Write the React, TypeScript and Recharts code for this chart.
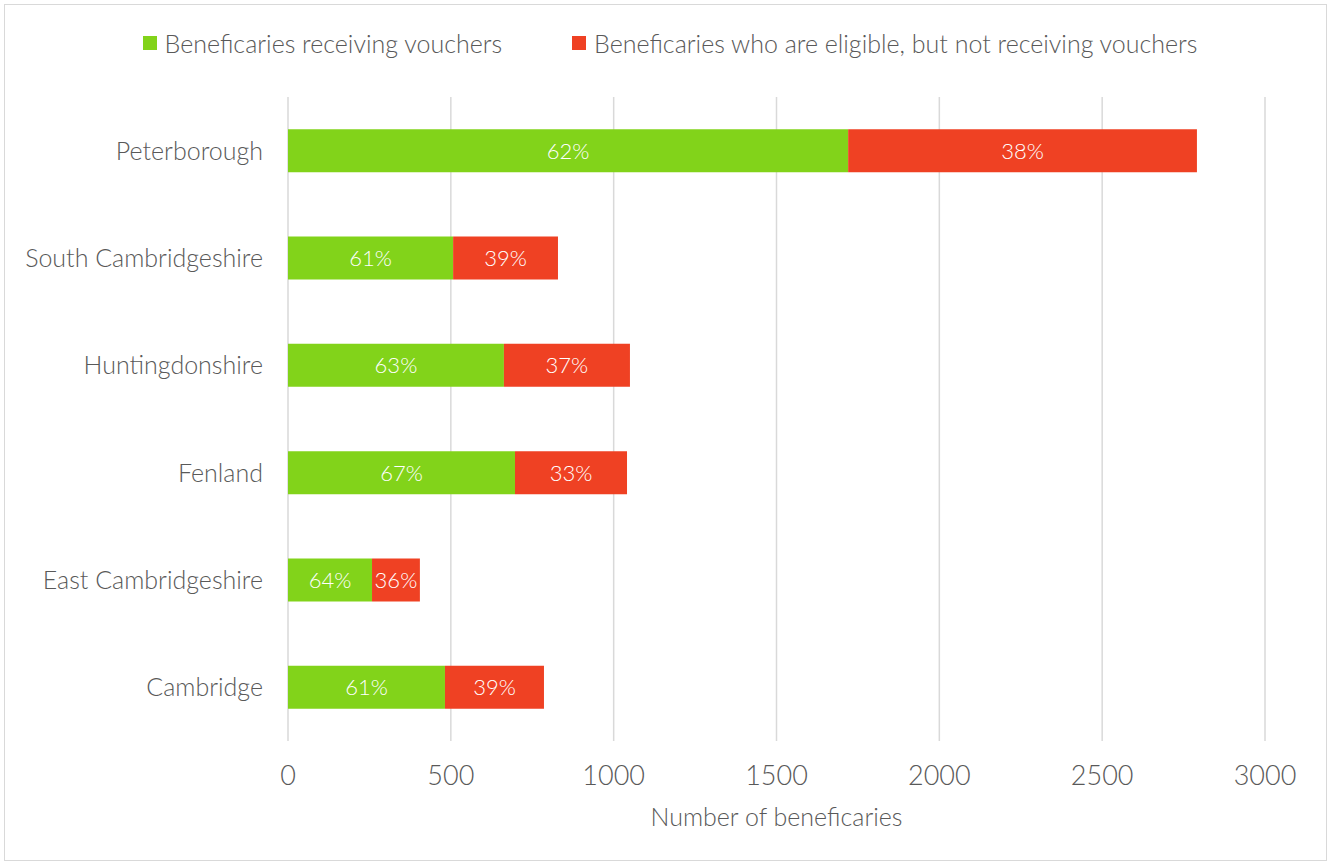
import React from 'react';
import { BarChart, Bar, XAxis, YAxis, CartesianGrid, Legend, LabelList } from 'recharts';

const categories = ['Peterborough', 'South Cambridgeshire', 'Huntingdonshire', 'Fenland', 'East Cambridgeshire', 'Cambridge'];
const receiving = [1720, 507, 663, 697, 258, 482];
const notReceiving = [1071, 322, 387, 344, 147, 304];
const receivingPct = ['62%', '61%', '63%', '67%', '64%', '61%'];
const notReceivingPct = ['38%', '39%', '37%', '33%', '36%', '39%'];
const xTicks = [0, 500, 1000, 1500, 2000, 2500, 3000];

const SERIES_A = 'Beneficaries receiving vouchers';
const SERIES_B = 'Beneficaries who are eligible, but not receiving vouchers';
const GREEN = '#82D31A';
const RED = '#EF4123';
const TEXT = '#595959';
const FONT = 'Lato, "Open Sans", sans-serif';

const data = categories.map((name, i) => ({
  name,
  a: receiving[i],
  b: notReceiving[i],
  pa: receivingPct[i],
  pb: notReceivingPct[i],
}));

const LegendContent = () => (
  <div style={{ display: 'flex', justifyContent: 'center', fontFamily: FONT, fontWeight: 300, fontSize: 25, color: TEXT, paddingLeft: 10 }}>
    {[{ c: GREEN, t: SERIES_A }, { c: RED, t: SERIES_B }].map((it, i) => (
      <div key={i} style={{ display: 'flex', alignItems: 'center', marginRight: i === 0 ? 70 : 0 }}>
        <span style={{ display: 'inline-block', width: 14, height: 14, background: it.c, marginRight: 8 }} />
        <span>{it.t}</span>
      </div>
    ))}
  </div>
);

export default function App() {
  return (
    <div style={{ position: 'fixed', left: 0, top: 0, width: 1330, height: 863, background: '#fff' }}>
      <div style={{ position: 'absolute', left: 4, top: 4, width: 1321, height: 855, border: '1px solid #d9d9d9' }} />
      <div style={{ position: 'absolute', left: 0, top: 0 }}>
        <BarChart
          width={1330}
          height={863}
          data={data}
          layout="vertical"
          margin={{ top: 97, right: 65, bottom: 32, left: 0 }}
          barCategoryGap="30%"
        >
          <CartesianGrid horizontal={false} stroke="#d9d9d9" strokeWidth={1.5} />
          <XAxis
            type="number"
            domain={[0, 3000]}
            ticks={xTicks}
            axisLine={false}
            tickLine={false}
            tickSize={0}
            tickMargin={25}
            height={90}
            tick={{ fill: TEXT, fontSize: 27, fontFamily: FONT, fontWeight: 300 }}
            label={{ value: 'Number of beneficaries', position: 'insideBottom', offset: 5, fill: TEXT, fontSize: 25, fontFamily: FONT, fontWeight: 300 }}
          />
          <YAxis
            type="category"
            dataKey="name"
            width={288}
            axisLine={false}
            tickLine={false}
            tickSize={0}
            tickMargin={25}
            tick={{ fill: TEXT, fontSize: 25, fontFamily: FONT, fontWeight: 300 }}
          />
          <Legend layout="horizontal" verticalAlign="middle" align="center" wrapperStyle={{ top: 28, left: 0, width: 1330 }} content={<LegendContent />} />
          <Bar dataKey="a" name={SERIES_A} stackId="s" fill={GREEN} isAnimationActive={false}>
            <LabelList dataKey="pa" position="center" fill="#fff" fontSize={22} fontFamily={FONT} fontWeight={300} />
          </Bar>
          <Bar dataKey="b" name={SERIES_B} stackId="s" fill={RED} isAnimationActive={false}>
            <LabelList dataKey="pb" position="center" fill="#fff" fontSize={22} fontFamily={FONT} fontWeight={300} />
          </Bar>
        </BarChart>
      </div>
    </div>
  );
}
